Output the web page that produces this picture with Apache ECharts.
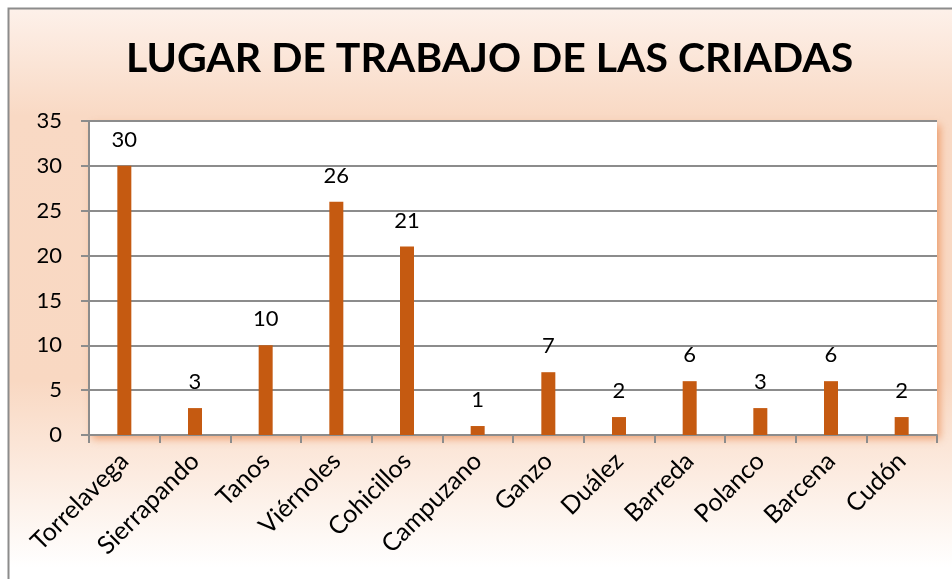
<!DOCTYPE html>
<html>
<head>
<meta charset="utf-8">
<script src="https://cdn.jsdelivr.net/npm/echarts@6/dist/echarts.min.js"></script>
<style>
html,body{margin:0;padding:0;background:#fff;}
#chart{width:952px;height:579px;}
</style>
</head>
<body>
<div id="chart"></div>
<script>
// lugares
var lugares = ['Torrelavega','Sierrapando','Tanos','Viérnoles','Cohicillos','Campuzano','Ganzo','Duález','Barreda','Polanco','Barcena','Cudón'];
// numero de criadas
var criadas = [30, 3, 10, 26, 21, 1, 7, 2, 6, 3, 6, 2];
var titulo = 'LUGAR DE TRABAJO DE LAS CRIADAS';

var font = 'Lato, "Open Sans", sans-serif';

var option = {
    animation: false,
    graphic: [{
        type: 'rect',
        z: -10,
        shape: {x: 8.5, y: 8.5, width: 960, height: 600},
        style: {
            fill: new echarts.graphic.LinearGradient(0, 0, 0, 1, [
                {offset: 0, color: '#fdf1ea'},
                {offset: 0.18, color: '#f9d9c4'},
                {offset: 0.62, color: '#f9d8c2'},
                {offset: 0.93, color: '#ffffff'}
            ]),
            stroke: '#8c8c8c',
            lineWidth: 2
        }
    }],
    title: {
        text: titulo,
        left: 121,
        top: 33,
        textStyle: {fontFamily: font, fontWeight: 'bold', fontSize: 41, color: '#000'}
    },
    grid: {
        left: 89, right: 15, top: 121, bottom: 144,
        show: true,
        backgroundColor: '#fff',
        borderWidth: 0,
        shadowColor: 'rgba(225,110,40,0.55)',
        shadowBlur: 8,
        shadowOffsetX: 3,
        shadowOffsetY: 4
    },
    xAxis: {
        type: 'category',
        data: lugares,
        axisLine: {lineStyle: {color: '#8c8c8c', width: 2}},
        axisTick: {show: true, length: 8, lineStyle: {color: '#8c8c8c', width: 2}},
        axisLabel: {rotate: 45, margin: 22, fontFamily: font, fontSize: 25, color: '#000'}
    },
    yAxis: {
        type: 'value',
        min: 0, max: 35, interval: 5,
        axisLine: {show: true, lineStyle: {color: '#8c8c8c', width: 2}},
        axisTick: {show: true, length: 8, lineStyle: {color: '#8c8c8c', width: 2}},
        splitLine: {lineStyle: {color: '#8c8c8c', width: 2}},
        axisLabel: {margin: 27, fontFamily: font, fontSize: 22, color: '#000'}
    },
    series: [{
        type: 'bar',
        data: criadas,
        barWidth: 14,
        itemStyle: {color: '#c55a11'},
        label: {show: true, position: 'top', distance: 15, fontFamily: font, fontSize: 22, color: '#000'}
    }]
};

var mychart = echarts.init(document.getElementById('chart'));
mychart.setOption(option);
</script>
</body>
</html>
